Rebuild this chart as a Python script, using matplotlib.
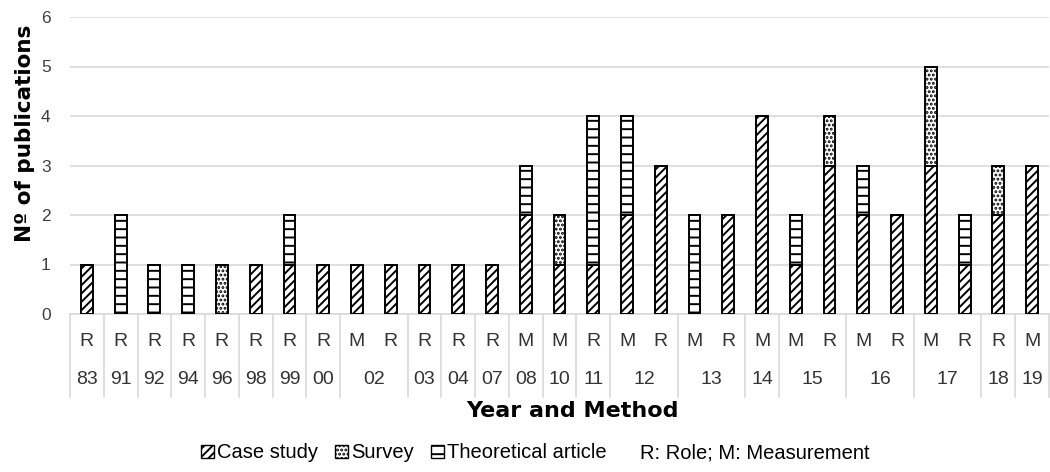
import numpy as np
import matplotlib
matplotlib.use('Agg')
import matplotlib.pyplot as plt
from matplotlib.patches import Patch
import matplotlib.transforms as mtransforms

# Dados
methods = ['R', 'R', 'R', 'R', 'R', 'R', 'R', 'R', 'M', 'R', 'R', 'R', 'R', 'M', 'M',
           'R', 'M', 'R', 'M', 'R', 'M', 'M', 'R', 'M', 'R', 'M', 'R', 'R', 'M']
years = ['83', '91', '92', '94', '96', '98', '99', '00', '02', '02', '03', '04', '07', '08', '10',
         '11', '12', '12', '13', '13', '14', '15', '15', '16', '16', '17', '17', '18', '19']
case_study = [1, 0, 0, 0, 0, 1, 1, 1, 1, 1, 1, 1, 1, 2, 1,
              1, 2, 3, 0, 2, 4, 1, 3, 2, 2, 3, 1, 2, 3]
survey = [0, 0, 0, 0, 1, 0, 0, 0, 0, 0, 0, 0, 0, 0, 1,
          0, 0, 0, 0, 0, 0, 0, 1, 0, 0, 2, 0, 1, 0]
theoretical = [0, 2, 1, 1, 0, 0, 1, 0, 0, 0, 0, 0, 0, 1, 0,
               3, 2, 0, 2, 0, 0, 1, 0, 1, 0, 0, 1, 0, 0]

plt.rcParams['font.family'] = ['Liberation Sans', 'DejaVu Sans']
plt.rcParams['hatch.linewidth'] = 1.4

fig = plt.figure(figsize=(10.5, 4.72), dpi=100)
ax = fig.add_axes([70 / 1050, 1 - 314 / 472, 979 / 1050, 297 / 472])

x = np.arange(len(years))
w = 0.35
cs = np.array(case_study)
sv = np.array(survey)
th = np.array(theoretical)

ax.bar(x, cs, w, color='white', edgecolor='black', hatch='////', linewidth=1.4, zorder=3)
ax.bar(x, sv, w, bottom=cs, color='white', edgecolor='black', hatch='....', linewidth=1.4, zorder=3)
ax.bar(x, th, w, bottom=cs + sv, color='white', edgecolor='black', hatch='--', linewidth=1.4, zorder=3)

ax.set_xlim(-0.5, len(years) - 0.5)
ax.set_ylim(0, 6)
ax.set_yticks(range(7))
ax.tick_params(axis='y', length=0, labelsize=12.5, pad=14, labelcolor='#404040')
ax.grid(axis='y', color='#d9d9d9', linewidth=1.2, zorder=0)
ax.set_xticks([])
for s in ['top', 'right', 'left']:
    ax.spines[s].set_visible(False)
ax.spines['bottom'].set_color('#d9d9d9')
ax.spines['bottom'].set_linewidth(1.2)

ax.set_ylabel('Nº of publications', fontsize=15.5, fontweight='bold', labelpad=6,
              family='DejaVu Sans')
ax.yaxis.set_label_coords(-0.036, (314 - 133) / 297)

# Tabela de categorias em dois níveis
trans = mtransforms.blended_transform_factory(ax.transData, ax.transAxes)
y_met = (314 - 341) / 297
y_year = (314 - 380) / 297
y_bot = (314 - 397) / 297

for i, m in enumerate(methods):
    ax.text(i, y_met, m, transform=trans, ha='center', va='center', fontsize=14, color='#333333')

# agrupa anos iguais
groups = []
start = 0
for i in range(1, len(years) + 1):
    if i == len(years) or years[i] != years[start]:
        groups.append((start, i - 1, years[start]))
        start = i

for a, b, lab in groups:
    ax.text((a + b) / 2, y_year, lab, transform=trans, ha='center', va='center',
            fontsize=14, color='#333333')

bounds = [a - 0.5 for a, b, lab in groups] + [len(years) - 0.5]
for bx in bounds:
    ax.plot([bx, bx], [0, y_bot], transform=trans, color='#d9d9d9', linewidth=1.2,
            clip_on=False)

fig.text(572 / 1050, 1 - 411 / 472, 'Year and Method', ha='center', va='center',
         fontsize=16, fontweight='bold', family='DejaVu Sans')

handles = [
    Patch(facecolor='white', edgecolor='black', hatch='////'),
    Patch(facecolor='white', edgecolor='black', hatch='....'),
    Patch(facecolor='white', edgecolor='black', hatch='--'),
    Patch(facecolor='none', edgecolor='none'),
]
labels = ['Case study', 'Survey', 'Theoretical article', 'R: Role; M: Measurement']
fig.legend(handles, labels, loc='center', bbox_to_anchor=(535 / 1050, 1 - 453 / 472),
           ncol=4, frameon=False, fontsize=14.5, handlelength=0.65, handleheight=0.65,
           handletextpad=0.15, columnspacing=0.85, borderaxespad=0)

plt.savefig('out.png', dpi=100)
